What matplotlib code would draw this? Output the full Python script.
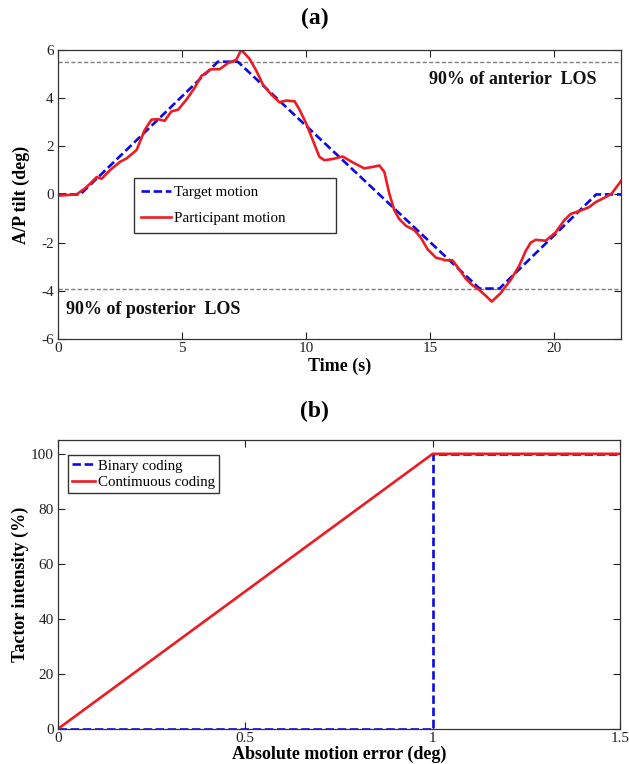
import matplotlib
matplotlib.use("Agg")
import matplotlib.pyplot as plt

plt.rcParams['font.family'] = ['Liberation Serif', 'DejaVu Serif']
plt.rcParams['axes.unicode_minus'] = False

# ---- Panel (a) data ----
target_t = [0, 0.9, 6.45, 7.25, 17.0, 17.8, 21.7, 22.7]
target_y = [0, 0, 5.5, 5.5, -3.9, -3.9, 0, 0]

part_t = [0, 0.75, 1.15, 1.56, 1.76, 2.09, 2.5, 2.76, 3.17, 3.5, 3.77, 4.04, 4.3, 4.57,
          4.84, 5.18, 5.51, 5.78, 6.18, 6.52, 6.85, 7.19, 7.39, 7.73, 8.0, 8.26, 8.6,
          8.93, 9.2, 9.54, 9.74, 10.0, 10.27, 10.54, 10.74, 11.08, 11.48, 11.88, 12.35,
          12.69, 12.96, 13.16, 13.36, 13.56, 13.76, 14.03, 14.37, 14.63, 14.9, 15.24,
          15.64, 15.91, 16.18, 16.45, 16.71, 16.98, 17.25, 17.49, 17.85, 18.26, 18.59,
          18.86, 19.06, 19.26, 19.66, 20.06, 20.4, 20.67, 21.07, 21.41, 21.68, 22.08,
          22.32, 22.64, 22.7]
part_y = [-0.05, 0.0, 0.3, 0.72, 0.65, 1.0, 1.35, 1.49, 1.84, 2.68, 3.1, 3.12, 3.05, 3.44,
          3.51, 3.93, 4.42, 4.91, 5.19, 5.19, 5.44, 5.58, 6.0, 5.61, 5.12, 4.56, 4.14,
          3.82, 3.89, 3.86, 3.51, 2.96, 2.26, 1.56, 1.42, 1.47, 1.57, 1.33, 1.08,
          1.14, 1.2, 0.93, 0.03, -0.65, -1.02, -1.3, -1.48, -1.79, -2.27, -2.62,
          -2.73, -2.73, -3.11, -3.5, -3.76, -3.95, -4.2, -4.44, -4.09, -3.53, -2.97,
          -2.34, -2.0, -1.88, -1.92, -1.58, -1.09, -0.81, -0.67, -0.53, -0.32, -0.11,
          0.03, 0.47, 0.55]

anterior_los = 5.5
posterior_los = -3.9

# ---- Panel (b) data ----
err_binary = [0, 1, 1, 1.5]
int_binary = [0, 0, 100, 100]
err_cont = [0, 1, 1.5]
int_cont = [0, 100, 100]

BLUE = '#0a0ae6'
RED = '#ec1c24'
GRAY = '#7f7f7f'

fig = plt.figure(figsize=(6.29, 7.64), dpi=100)

def style(ax):
    ax.tick_params(direction='in', top=True, right=True, length=5, width=0.8,
                   labelsize=11, colors='#222222')
    ax.tick_params(axis='x', pad=2)
    ax.tick_params(axis='y', pad=3)
    for s in ax.spines.values():
        s.set_linewidth(0.9)
        s.set_color('#333333')

# ---- (a) ----
ax1 = fig.add_axes([0.0922, 0.556, 0.895, 0.379])
ax1.plot(target_t, target_y, color=BLUE, lw=1.9, ls=(0, (3.2, 1.4)), label='Target motion')
ax1.plot(part_t, part_y, color=RED, lw=1.9, label='Participant motion')
ax1.axhline(anterior_los, color=GRAY, lw=1.0, ls=(0, (3, 1.6)), zorder=1)
ax1.axhline(posterior_los, color=GRAY, lw=1.0, ls=(0, (3, 1.6)), zorder=1)
ax1.set_xlim(0, 22.7)
ax1.set_ylim(-6, 6)
ax1.set_xticks([0, 5, 10, 15, 20])
ax1.set_yticks([-6, -4, -2, 0, 2, 4, 6])
style(ax1)
ax1.text(21.7, 4.76, '90% of anterior  LOS', ha='right', va='center',
         fontsize=13, fontweight='bold', color='#111111')
ax1.text(0.32, -4.76, '90% of posterior  LOS', ha='left', va='center',
         fontsize=13, fontweight='bold', color='#111111')
leg1 = ax1.legend(loc='upper left', bbox_to_anchor=(0.135, 0.557, 0.359, 0.0),
                  mode='expand', borderaxespad=0, fontsize=10.8, handlelength=2.0,
                  labelspacing=0.85, fancybox=False, framealpha=1,
                  edgecolor='#333333', borderpad=0.5, handletextpad=0.2)
leg1.get_frame().set_linewidth(1.0)

fig.text(0.5, 0.976, '(a)', ha='center', va='center', fontsize=17, fontweight='bold')
fig.text(0.54, 0.521, 'Time (s)', ha='center', va='center', fontsize=13, fontweight='bold')
fig.text(0.034, 0.745, 'A/P tilt (deg)', ha='center', va='center', rotation=90,
         fontsize=13, fontweight='bold')

# ---- (b) ----
ax2 = fig.add_axes([0.0922, 0.046, 0.8935, 0.378])
ax2.plot(err_binary, int_binary, color=BLUE, lw=1.9, ls=(0, (3.2, 1.4)), label='Binary coding')
ax2.plot(err_cont, int_cont, color=RED, lw=1.9, label='Contimuous coding')
ax2.set_xlim(0, 1.5)
ax2.set_ylim(0, 105)
ax2.set_xticks([0, 0.5, 1, 1.5])
ax2.set_xticklabels(['0', '0.5', '1', '1.5'])
ax2.set_yticks([0, 20, 40, 60, 80, 100])
style(ax2)
leg2 = ax2.legend(loc='upper left', bbox_to_anchor=(0.018, 0.948),
                  borderaxespad=0, fontsize=10.7, handlelength=1.5,
                  labelspacing=0.22, fancybox=False, framealpha=1,
                  edgecolor='#333333', borderpad=0.28, handletextpad=0.25)
leg2.get_frame().set_linewidth(1.0)

fig.text(0.5, 0.461, '(b)', ha='center', va='center', fontsize=17, fontweight='bold')
fig.text(0.54, 0.012, 'Absolute motion error (deg)', ha='center', va='center',
         fontsize=13, fontweight='bold')
fig.text(0.032, 0.235, 'Tactor intensity (%)', ha='center', va='center', rotation=90,
         fontsize=13, fontweight='bold')

fig.savefig('out.png', dpi=100)
